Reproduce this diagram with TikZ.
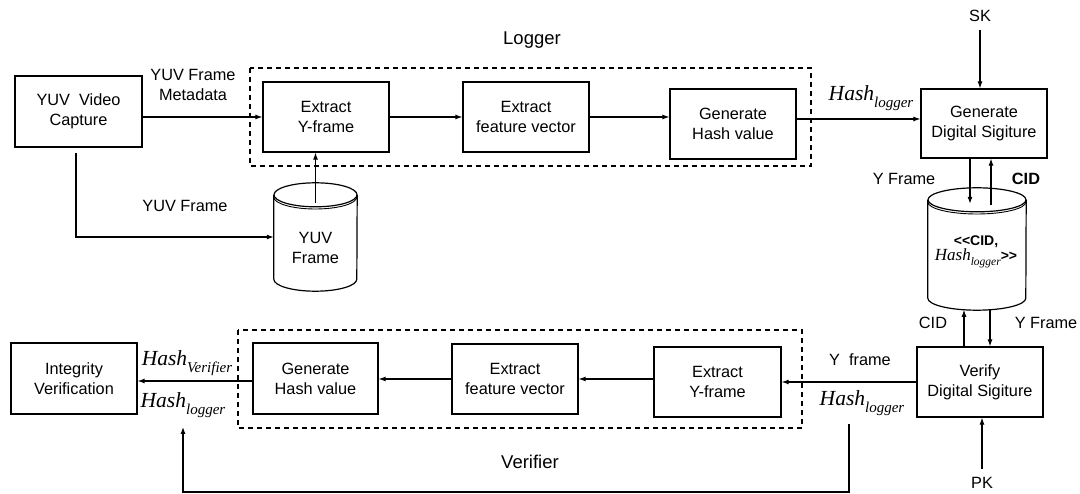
\documentclass[tikz,border=0pt]{standalone}
\usepackage{fontspec}
\setmainfont{Liberation Sans}
\newfontfamily\tms{Liberation Serif}
\usetikzlibrary{arrows.meta,calc}

% italic "Hash" with a lowered subscript: #1 subscript, #2 main size, #3 subscript size
\newcommand\hashof[3]{{\tms\itshape\fontsize{#2}{#2}\selectfont Hash\raisebox{-0.3em}{\fontsize{#3}{#3}\selectfont #1}}}

% cylinder drawn round an empty body node: #1 node, #2 x radius, #3 y radius
\newcommand\dbdrum[3]{%
  \draw[line width=1.2pt] (#1.north west) -- (#1.south west)
     arc[start angle=180,end angle=360,x radius=#2,y radius=#3] -- (#1.north east);
  \draw[line width=1.2pt] (#1.north) ellipse[x radius=#2,y radius=#3];
  \draw[line width=0.9pt] ([yshift=-2.2pt]#1.north west)
     arc[start angle=180,end angle=360,x radius=#2,y radius=#3];
}

\begin{document}
\begin{tikzpicture}[x=1pt,y=-1pt,
  blk/.style={draw, line width=1.2pt, inner sep=0pt, minimum width=126pt,
    minimum height=70pt, align=center, font=\fontsize{16.3}{20}\selectfont},
  lbl/.style={inner sep=0pt, align=center, font=\fontsize{16.3}{20}\selectfont},
  ttl/.style={inner sep=0pt, font=\fontsize{18.5}{22}\selectfont},
  arr/.style={line width=1.1pt, -{Latex[length=7pt,width=5pt]}},
  grp/.style={line width=2.3pt, dash pattern=on 5pt off 4pt},
  body/.style={inner sep=0pt},
]
\useasboundingbox (0,0) rectangle (1080,494);

% processing blocks
\node[blk, minimum width=127pt, minimum height=71pt] (cap) at (78.5,111.5) {YUV\ \ Video\\Capture};
\node[blk] (ly) at (326,117) {Extract\\Y-frame};
\node[blk] (lf) at (526,117) {Extract\\feature vector};
\node[blk] (lh) at (733,124) {Generate\\Hash value};
\node[blk, minimum height=69pt] (gds) at (984,123.5) {Generate\\Digital Sigiture};
\node[blk] (ver) at (980,382) {Verify\\Digital Sigiture};
\node[blk, minimum width=127pt] (vy) at (717.5,382) {Extract\\Y-frame};
\node[blk] (vf) at (515,379) {Extract\\feature vector};
\node[blk, minimum width=125pt, minimum height=71pt] (vh) at (315.5,378.5) {Generate\\Hash value};
\node[blk, minimum height=71pt] (iv) at (74,378.5) {Integrity\\Verification};

% storage cylinders
\node[body, minimum width=83pt, minimum height=84pt] (yuv) at (315.5,237) {};
\dbdrum{yuv}{41.5pt}{12pt}
\node[lbl] (yuvt) at (315.5,248) {YUV\\Frame};
\node[body, minimum width=98pt, minimum height=98pt] (db) at (977,249) {};
\dbdrum{db}{49pt}{12pt}
\node[inner sep=0pt, align=center] (dbt) at (976,252)
  {\fontsize{14}{21}\selectfont\bfseries <{}<CID,\\\hashof{logger}{17}{11.5}\fontsize{14}{16}\selectfont\bfseries >{}>};

% group frames
\draw[grp] (250,68) rectangle (811,166);
\draw[grp] (238,330) rectangle (802,428);

% labels
\node[ttl] (lgr) at (532,40) {Logger};
\node[ttl] (vrf) at (530,462) {Verifier};
\node[lbl] (meta) at (193,85) {YUV Frame\\Metadata};
\node[lbl] (yuvf) at (185,206) {YUV Frame};
\node[lbl] (sk) at (980,16) {SK};
\node[lbl] (pk) at (982,483) {PK};
\node[inner sep=0pt] (hl1) at (871,98) {\hashof{logger}{21.5}{15}};
\node[lbl] (yf1) at (904,179) {Y Frame};
\node[lbl, font=\fontsize{16.3}{20}\selectfont\bfseries] (cid1) at (1026,179) {CID};
\node[lbl] (cid2) at (933,323) {CID};
\node[lbl] (yf2) at (1046,323) {Y Frame};
\node[lbl] (yf3) at (860,360) {Y\ \ frame};
\node[inner sep=0pt] (hl2) at (862,403) {\hashof{logger}{21.5}{15}};
\node[inner sep=0pt] (hv) at (187,363) {\hashof{Verifier}{21.5}{15}};
\node[inner sep=0pt] (hl3) at (183,405) {\hashof{logger}{21.5}{15}};

% logger flow
\draw[arr] (cap.east |- ly.west) -- (ly.west);
\draw[arr] ([xshift=-2.5pt]cap.south) ++(0,5) |- (yuv.west);
\draw[arr] ([yshift=-8pt]yuv.north) -- (yuv.north |- ly.south);
\draw[arr] (ly) -- (lf);
\draw[arr] (lf.east) -- (lf.east -| lh.west);
\draw[arr] ([yshift=5pt]lh.east) -- ([yshift=5pt]lh.east -| gds.west);
\draw[arr, shorten <=8pt] (sk) -- (sk |- gds.north);
\draw[arr] ([xshift=-14pt]gds.south) -- ([xshift=-7pt,yshift=-4pt]db.north);
\draw[arr] ([xshift=14pt,yshift=-5pt]db.north) -- ([xshift=7pt]gds.south);

% verifier flow
\draw[arr] ([xshift=-16pt]ver.north) -- ([xshift=-13pt,yshift=-11.6pt]db.south);
\draw[arr] ([xshift=13pt,yshift=-11.6pt]db.south) -- ([xshift=10pt]ver.north);
\draw[arr, shorten <=8pt] (pk) -- (pk |- ver.south);
\draw[arr] (ver.west) -- (vy.east);
\draw[arr] (vy.west |- vf.east) -- (vf.east);
\draw[arr] (vf.west) -- (vf.west -| vh.east);
\draw[arr] ([yshift=-2.5pt]vh.west) -- ([yshift=-2.5pt]vh.west -| iv.east);

% logged hash fed back to the integrity check
\coordinate (loopA) at (849,424);
\coordinate (loopB) at (183,427);
\coordinate (loopbase) at (0,492);
\draw[arr] (loopA) -- (loopA |- loopbase) -- (loopB |- loopbase) -- (loopB);
\end{tikzpicture}
\end{document}
